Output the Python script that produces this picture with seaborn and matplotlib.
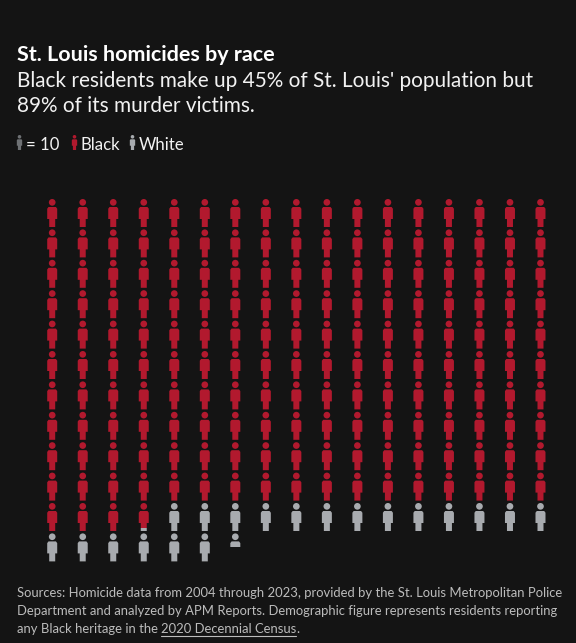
import matplotlib
matplotlib.use("Agg")
import numpy as np
import pandas as pd
import seaborn as sns
import matplotlib.pyplot as plt
from matplotlib.path import Path
from matplotlib.patches import Rectangle
from matplotlib.lines import Line2D

# ---------------- data ----------------
races = ["Black", "White"]
homicides = [1739, 196]          # victims 2004-2023
per_icon = 10
n_cols = 17

title = "St. Louis homicides by race"
subtitle_lines = ["Black residents make up 45% of St. Louis' population but",
                  "89% of its murder victims."]
legend_unit = "= 10"
source_lines = ["Sources: Homicide data from 2004 through 2023, provided by the St. Louis Metropolitan Police",
                "Department and analyzed by APM Reports. Demographic figure represents residents reporting"]
source_last = ["any Black heritage in the ", "2020 Decennial Census", "."]

# ---------------- style ----------------
BG = "#141414"
palette = {"Black": "#b2192e", "White": "#a8abaf"}
UNIT_GRAY = "#6e7174"
TEXT = "#f2f2f2"
FOOT = "#bcbcbc"

W, H, DPI = 576, 643, 100
sns.set_theme(style="dark", rc={"figure.facecolor": BG, "axes.facecolor": BG})
plt.rcParams["font.family"] = ["Lato", "DejaVu Sans"]

# ---------------- icon segments ----------------
segs = []
pos = 0.0
for race, n in zip(races, homicides):
    end = pos + n / per_icon
    i = int(np.floor(pos + 1e-9))
    while i < end - 1e-9:
        a = max(pos, i) - i
        b = min(end, i + 1) - i
        segs.append((i, race, a, b))
        i += 1
    pos = end
df = pd.DataFrame(segs, columns=["idx", "race", "a", "b"])
df["col"] = df["idx"] % n_cols
df["row"] = df["idx"] // n_cols
df["full"] = np.isclose(df["a"], 0) & np.isclose(df["b"], 1)
n_rows = int(np.ceil(pos / n_cols - 1e-9))


def person_path():
    head = Path.circle((0, 10.65), 3.35)
    verts = [(-5, 4.3), (-3.7, 6), (3.7, 6), (5, 4.3), (5, -6), (3, -6),
             (3, -14), (-3, -14), (-3, -6), (-5, -6), (-5, 4.3)]
    codes = [Path.MOVETO] + [Path.LINETO] * 9 + [Path.CLOSEPOLY]
    return Path.make_compound_path(head, Path(verts, codes))


icon = person_path()
ICON_PX = 28.0
S = (ICON_PX * 72 / DPI) ** 2

fig = plt.figure(figsize=(W / DPI, H / DPI), dpi=DPI, facecolor=BG)
x0, x1 = 36.95, 555.75
y_top, y_bot = 197.8, 562.6
ax = fig.add_axes([x0 / W, 1 - y_bot / H, (x1 - x0) / W, (y_bot - y_top) / H])
ax.set_facecolor(BG)

full = df[df["full"]]
sns.scatterplot(data=full, x="col", y="row", hue="race", palette=palette,
                marker=icon, s=S, linewidth=0, edgecolor="none",
                legend=False, ax=ax)
ax.set_xlim(-0.5, n_cols - 0.5)
ax.set_ylim(n_rows - 0.5, -0.5)
row_px = (y_bot - y_top) / n_rows
icon_h = ICON_PX / row_px

for _, r in df[~df["full"]].iterrows():
    sns.scatterplot(data=pd.DataFrame([r]), x="col", y="row", hue="race",
                    palette=palette, marker=icon, s=S, linewidth=0,
                    edgecolor="none", legend=False, ax=ax)
    coll = ax.collections[-1]
    top = r["row"] - icon_h / 2
    rect = Rectangle((r["col"] - 0.5, top + r["a"] * icon_h), 1,
                     (r["b"] - r["a"]) * icon_h, transform=ax.transData)
    coll.set_clip_path(rect)

ax.set_xlim(-0.5, n_cols - 0.5)
ax.set_ylim(n_rows - 0.5, -0.5)
ax.axis("off")

# ---------------- texts ----------------
renderer = fig.canvas.get_renderer()


def ftext(x, y, s, **kw):
    return fig.text(x / W, 1 - y / H, s, va="baseline", ha="left", **kw)


def fit(t, width):
    w = t.get_window_extent(renderer).width
    t.set_fontsize(t.get_fontsize() * width / w)
    return t.get_fontsize()


t_title = ftext(17.3, 61.3, title, color="white", fontsize=14, fontweight="bold")
fit(t_title, 258)
t_s1 = ftext(17.3, 86.7, subtitle_lines[0], color=TEXT, fontsize=14)
fs = fit(t_s1, 518.3)
ftext(17.3, 112.0, subtitle_lines[1], color=TEXT, fontsize=fs)

# legend
leg_ms = 15 * 72 / DPI
for xc, c in [(19.2, UNIT_GRAY), (74.2, palette["Black"]), (131.5, palette["White"])]:
    fig.add_artist(Line2D([xc / W], [1 - 141.7 / H], marker=icon, markersize=leg_ms,
                          color=c, markeredgewidth=0, linestyle="none",
                          transform=fig.transFigure))
t_b = ftext(81, 150, "Black", color=TEXT, fontsize=12)
lfs = fit(t_b, 39.7)
ftext(26, 150, legend_unit, color=TEXT, fontsize=lfs)
ftext(138.3, 150, "White", color=TEXT, fontsize=lfs)

# sources
t_f1 = ftext(16.7, 597.3, source_lines[0], color=FOOT, fontsize=10)
ffs = fit(t_f1, 545.3)
ftext(16.7, 615.3, source_lines[1], color=FOOT, fontsize=ffs)
xp = 16.7
under = None
for k, piece in enumerate(source_last):
    t = ftext(xp, 633.0, piece, color=FOOT, fontsize=ffs)
    bb = t.get_window_extent(renderer)
    if k == 1:
        under = (xp, xp + bb.width)
    xp += bb.width
fig.add_artist(Line2D([under[0] / W, under[1] / W], [1 - 635.5 / H] * 2,
                      color=FOOT, linewidth=0.8, transform=fig.transFigure))

fig.savefig("out.png", dpi=DPI, facecolor=BG)
